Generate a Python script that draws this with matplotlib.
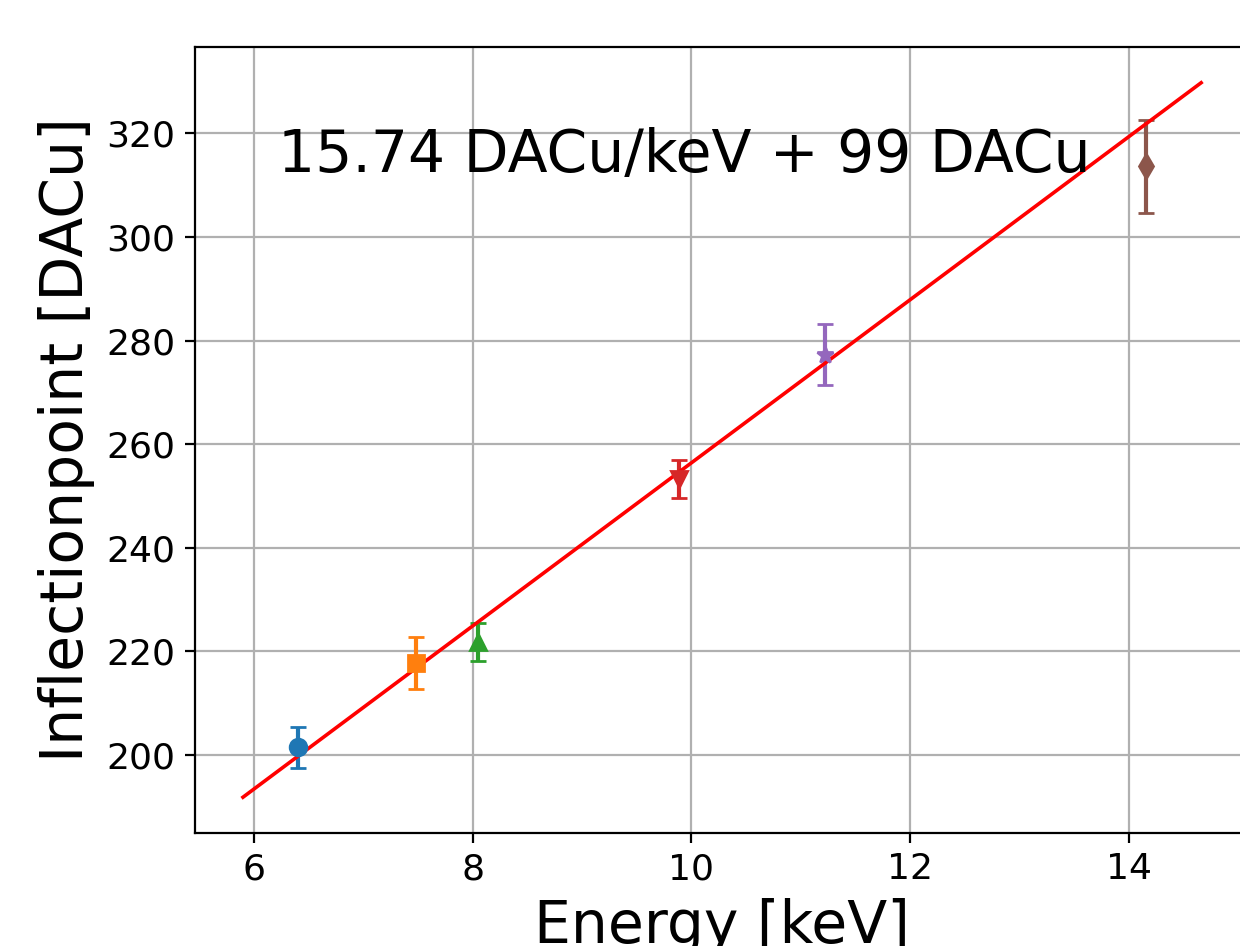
import matplotlib
matplotlib.use("Agg")
import matplotlib.pyplot as plt
import numpy as np

# measured lines (keV) and inflection points (DACu)
energy = [6.40, 7.48, 8.05, 9.89, 11.22, 14.16]
inflection = [201.5, 217.8, 221.8, 253.3, 277.3, 313.6]
inflection_err = [4.0, 5.0, 3.6, 3.6, 5.8, 9.0]
markers = ['o', 's', '^', 'v', '*', 'd']

# linear fit
slope = 15.74
offset = 99
fit_x = np.array([5.90, 14.66])

fig = plt.figure(figsize=(6.2, 4.73), dpi=200)
ax = fig.add_axes([0.1573, 0.1195, 0.85, 0.8308])

for x, y, e, m in zip(energy, inflection, inflection_err, markers):
    ax.errorbar(x, y, yerr=e, fmt=m, capsize=3)

ax.plot(fit_x, slope * fit_x + offset, color='red', linewidth=1.3)

ax.text(6.22, 312.5, "{0} DACu/keV + {1} DACu".format(slope, offset), fontsize=21)

ax.set_xlabel("Energy [keV]", fontsize=21)
ax.set_ylabel("Inflectionpoint [DACu]", fontsize=21)
ax.tick_params(labelsize=13)
ax.set_xticks([6, 8, 10, 12, 14])
ax.set_yticks([200, 220, 240, 260, 280, 300, 320])
ax.grid(True)

fig.savefig("out.png", dpi=200)
